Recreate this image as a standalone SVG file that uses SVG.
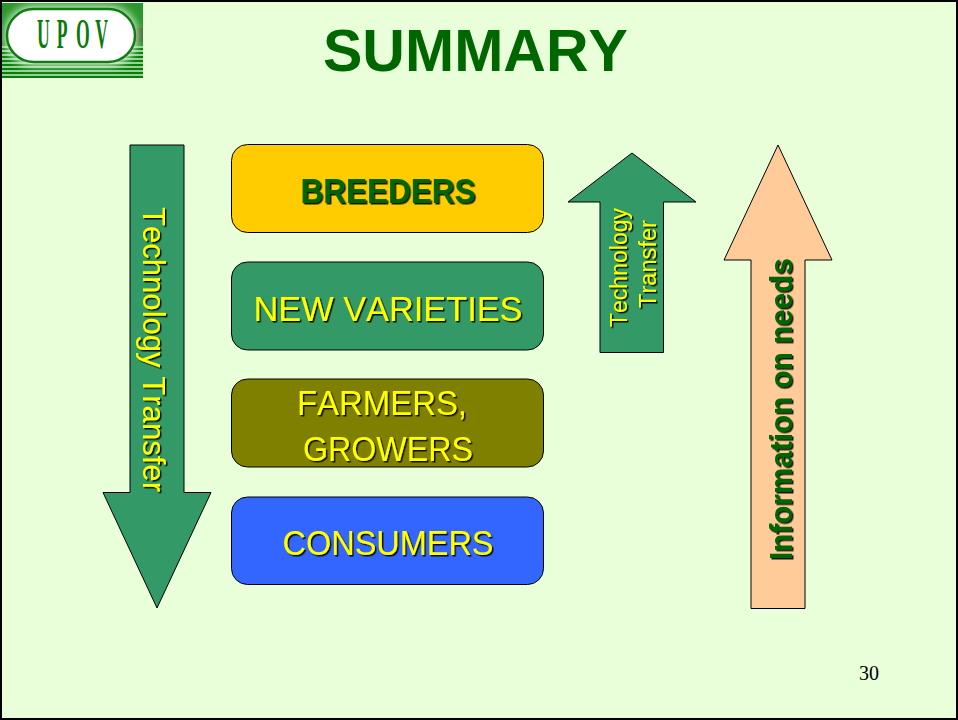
<svg xmlns="http://www.w3.org/2000/svg" width="958" height="720" viewBox="0 0 958 720">
<style>
.shape{stroke:#000;stroke-width:1}
.green{fill:#339966}
.t{font-family:"Liberation Sans",Arial,sans-serif;text-anchor:middle;font-kerning:none}
.n{font-size:35px}
.y{fill:#ffff00}
.g{fill:#006600}
</style>
<defs>
<filter id="sh" x="-10%" y="-10%" width="120%" height="120%"><feDropShadow dx="1.5" dy="1.5" stdDeviation="0.2" flood-color="#000" flood-opacity="0.9"/></filter>
<filter id="blur" x="-20%" y="-30%" width="140%" height="160%"><feGaussianBlur stdDeviation="4"/></filter>
<pattern id="stripes" width="4" height="4" patternUnits="userSpaceOnUse"><rect width="4" height="2" fill="#0a7a0a"/><rect y="2" width="4" height="2" fill="#8ed48e"/></pattern>
<clipPath id="logoclip"><rect x="2" y="3" width="141" height="75"/></clipPath>
</defs>
<rect id="background" x="1" y="1" width="956" height="718" fill="#e9ffd9" stroke="#000" stroke-width="2"/>
<g id="logo">
<g clip-path="url(#logoclip)">
<rect x="2" y="3" width="141" height="75" fill="#2b962b"/>
<rect x="2" y="46" width="141" height="32" fill="url(#stripes)"/>
<rect x="136" y="28" width="7" height="14" fill="#3f6f2f"/>
<rect x="5" y="6" width="132" height="60" rx="28" fill="#d9f5d9" filter="url(#blur)"/>
</g>
<rect x="7" y="9" width="128" height="53" rx="26.500" fill="#fff" stroke="#117c11" stroke-width="2.500"/>
<text transform="translate(0 48) scale(.42 1)" x="88 135 181 227" font-family="Liberation Serif,serif" font-weight="bold" font-size="42" fill="#0a7a0a">UPOV</text>
</g>
<g id="title"><text class="t g" x="475.500" y="71" font-size="60" font-weight="bold" textLength="305" lengthAdjust="spacingAndGlyphs">SUMMARY</text></g>
<g id="arrow-left">
<path class="shape green" d="M130 145H184V492.500H211L157 608L103 492.500H130Z"/>
<g filter="url(#sh)"><text class="t y" transform="translate(143 349.500) rotate(90)" font-size="31" textLength="285" lengthAdjust="spacingAndGlyphs">Technology Transfer</text></g>
</g>
<g id="breeders">
<rect class="shape" x="231.500" y="144.500" width="312" height="88" rx="16" fill="#ffcc00"/>
<g filter="url(#sh)"><text class="t g n" x="388" y="202.500" font-weight="bold" textLength="175" lengthAdjust="spacingAndGlyphs">BREEDERS</text></g>
</g>
<g id="new-varieties">
<rect class="shape green" x="231.500" y="262" width="312" height="88" rx="16"/>
<g filter="url(#sh)"><text class="t n y" x="388" y="321" textLength="269" lengthAdjust="spacingAndGlyphs">NEW VARIETIES</text></g>
</g>
<g id="farmers">
<rect class="shape" x="231.500" y="379" width="312" height="88" rx="16" fill="#808000"/>
<g filter="url(#sh)"><text class="t n y" x="382" y="415" textLength="170" lengthAdjust="spacingAndGlyphs">FARMERS,</text>
<text class="t n y" x="388" y="461" textLength="170" lengthAdjust="spacingAndGlyphs">GROWERS</text></g>
</g>
<g id="consumers">
<rect class="shape" x="231.500" y="497" width="312" height="87.500" rx="16" fill="#3366ff"/>
<g filter="url(#sh)"><text class="t n y" x="388" y="555" textLength="211" lengthAdjust="spacingAndGlyphs">CONSUMERS</text></g>
</g>
<g id="arrow-mid">
<path class="shape green" d="M600 352.500V202H568L632 153L696 202H663.500V352.500Z"/>
<g filter="url(#sh)"><text class="t y" transform="translate(627 267.500) rotate(-90)" font-size="23" textLength="119" lengthAdjust="spacingAndGlyphs">Technology</text>
<text class="t y" transform="translate(656 264) rotate(-90)" font-size="23" textLength="88" lengthAdjust="spacingAndGlyphs">Transfer</text></g>
</g>
<g id="arrow-right">
<path class="shape" fill="#ffcc99" d="M751 608.500V260H724L778 145L832 260H805V608.500Z"/>
<g filter="url(#sh)"><text class="t g" transform="translate(792 409) rotate(-90)" font-size="31" font-weight="bold" textLength="302" lengthAdjust="spacingAndGlyphs">Information on needs</text></g>
</g>
<g id="page-number"><text x="859" y="680" font-family="Liberation Serif,serif" font-size="20" fill="#000">30</text></g>
</svg>
